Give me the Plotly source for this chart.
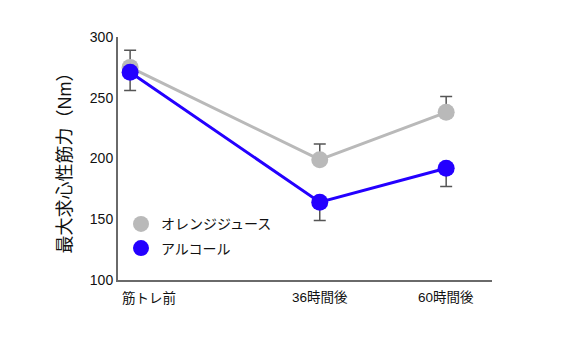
import plotly.graph_objects as go

# Time points (hours after training) and their labels
hours = [0, 36, 60]
time_labels = ["筋トレ前", "36時間後", "60時間後"]

# Peak concentric strength (Nm)
orange_juice = [275, 199, 238]
orange_juice_err = [14, 13, 13]
alcohol = [271, 164, 192]
alcohol_err = [15, 15, 15]

series_names = ["オレンジジュース", "アルコール"]
gray = "#b9b9b9"
blue = "#2400ff"
err_color = "#555555"

jp_font = "Liberation Sans, Arial, Noto Sans CJK JP, sans-serif"

fig = go.Figure()

fig.add_trace(go.Scatter(
    x=hours, y=orange_juice, name=series_names[0], mode="lines+markers",
    showlegend=False,
    line=dict(color=gray, width=3),
    marker=dict(color=gray, size=17),
    error_y=dict(type="data", symmetric=False, array=orange_juice_err,
                 arrayminus=[0, 0, 0], color=err_color, thickness=1.5, width=6),
))
fig.add_trace(go.Scatter(
    x=hours, y=alcohol, name=series_names[1], mode="lines+markers",
    showlegend=False,
    line=dict(color=blue, width=3),
    marker=dict(color=blue, size=17),
    error_y=dict(type="data", symmetric=False, array=[0, 0, 0],
                 arrayminus=alcohol_err, color=err_color, thickness=1.5, width=6),
))

# Marker-only legend entries
for name, col in zip(series_names, [gray, blue]):
    fig.add_trace(go.Scatter(x=[None], y=[None], mode="markers", name=name,
                             legendgroup=name, marker=dict(color=col, size=16)))

# Category labels under the time axis
label_anchor = ["left", "center", "center"]
label_shift = [-10, 0, 0]
for h, txt, anc, sh in zip(hours, time_labels, label_anchor, label_shift):
    fig.add_annotation(x=h, y=0, xref="x", yref="paper", text=txt,
                       showarrow=False, xanchor=anc, yanchor="top", xshift=sh,
                       yshift=-8, font=dict(size=13.5, color="#111111", family=jp_font))

fig.update_layout(
    width=578, height=337,
    margin=dict(l=118, r=86, t=37, b=57),
    plot_bgcolor="white", paper_bgcolor="white",
    font=dict(family=jp_font, size=14, color="#111111"),
    showlegend=True,
    legend=dict(x=0.008, y=0.295, xanchor="left", yanchor="top",
                bgcolor="rgba(0,0,0,0)", font=dict(size=14), itemsizing="trace",
                itemwidth=30, tracegroupgap=3, traceorder="grouped"),
    xaxis=dict(range=[-2.3, 68.7], showgrid=False, zeroline=False,
               showticklabels=False, ticks="", showline=True,
               linecolor="#6a6a6a", linewidth=2),
    yaxis=dict(range=[100, 300], tickvals=[100, 150, 200, 250, 300],
               showgrid=False, zeroline=False, showline=True,
               linecolor="#6a6a6a", linewidth=2, ticks="",
               tickfont=dict(size=14),
               title=dict(text="最大求心性筋力（Nm）", standoff=14,
                          font=dict(size=18, color="#111111"))),
)

fig.write_html("out.html")
